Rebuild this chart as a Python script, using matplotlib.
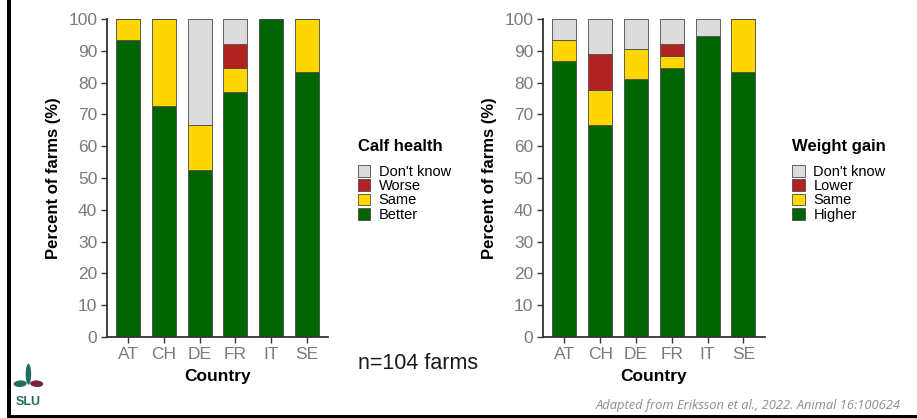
import matplotlib.pyplot as plt
from matplotlib.patches import Rectangle, Ellipse
import numpy as np

plt.rcParams['font.family'] = ['Liberation Sans', 'DejaVu Sans']

countries = ["AT", "CH", "DE", "FR", "IT", "SE"]

# calf health, % of farms per country
calf_better = [93.3, 72.7, 52.4, 76.9, 100.0, 83.3]
calf_same = [6.7, 27.3, 14.3, 7.7, 0.0, 16.7]
calf_worse = [0.0, 0.0, 0.0, 7.7, 0.0, 0.0]
calf_dk = [0.0, 0.0, 33.3, 7.7, 0.0, 0.0]

# weight gain, % of farms per country
wg_higher = [86.7, 66.7, 81.0, 84.6, 94.7, 83.3]
wg_same = [6.7, 11.1, 9.5, 3.8, 0.0, 16.7]
wg_lower = [0.0, 11.1, 0.0, 3.8, 0.0, 0.0]
wg_dk = [6.6, 11.1, 9.5, 7.7, 5.3, 0.0]

GREEN = "#006400"
YELLOW = "#FFD700"
RED = "#B22222"
GREY = "#DCDCDC"
TICK_COL = "#7a7a7a"


def stacked(ax, layers, labels, title, lx, ly):
    x = np.arange(1, len(countries) + 1)
    bottom = np.zeros(len(countries))
    handles = []
    for vals, col, lab in zip(layers, [GREEN, YELLOW, RED, GREY], labels):
        v = np.array(vals)
        b = ax.bar(x, v, width=0.67, bottom=bottom, color=col,
                   edgecolor="#4a4a4a", linewidth=0.6, label=lab, zorder=2)
        handles.append(b)
        bottom += v
    ax.set_xlim(0.4, 6.6)
    ax.set_ylim(0, 100)
    ax.set_yticks(range(0, 101, 10))
    ax.set_xticks(x)
    ax.set_xticklabels(countries)
    for s in ["top", "right"]:
        ax.spines[s].set_visible(False)
    for s in ["left", "bottom"]:
        ax.spines[s].set_color("#333333")
        ax.spines[s].set_linewidth(1.3)
    ax.tick_params(colors="#333333", labelcolor=TICK_COL, labelsize=12.5,
                   length=4, width=1.0, pad=3)
    ax.set_xlabel("Country", fontsize=12.5, fontweight="bold", labelpad=5)
    ax.set_ylabel("Percent of farms (%)", fontsize=12, fontweight="bold",
                  labelpad=5)
    leg = ax.legend(handles[::-1], labels[::-1], title=title,
                    loc="upper left", bbox_to_anchor=(lx, ly),
                    bbox_transform=ax.figure.transFigure,
                    frameon=False, fontsize=10.5, title_fontsize=12,
                    handlelength=0.85, handleheight=0.85, handletextpad=0.6,
                    labelspacing=0.02, borderaxespad=0, borderpad=0)
    leg.get_title().set_fontweight("bold")
    leg._legend_box.align = "left"
    leg._legend_box.sep = 8


fig = plt.figure(figsize=(9.17, 4.18), dpi=100)

ax1 = fig.add_axes([0.1167, 0.1938, 0.241, 0.7607])
stacked(ax1, [calf_better, calf_same, calf_worse, calf_dk],
        ["Better", "Same", "Worse", "Don't know"], "Calf health",
        0.39, 0.668)

ax2 = fig.add_axes([0.592, 0.1938, 0.242, 0.7607])
stacked(ax2, [wg_higher, wg_same, wg_lower, wg_dk],
        ["Higher", "Same", "Lower", "Don't know"], "Weight gain",
        0.864, 0.668)

fig.text(0.39, 0.13, "n=104 farms", fontsize=15.5, color="#1a1a1a",
         ha="left", va="center")
fig.text(0.982, 0.03, "Adapted from Eriksson et al., 2022. Animal 16:100624",
         fontsize=9.3, style="italic", color="#8c8c8c", ha="right",
         va="center", family=["Open Sans", "DejaVu Sans"])

# frame lines on left and bottom
fig.add_artist(Rectangle((0.0075, 0.0), 0.0045, 1.0, transform=fig.transFigure,
                         color="black", lw=0))
fig.add_artist(Rectangle((0.0075, 0.0), 0.9925, 0.006,
                         transform=fig.transFigure, color="black", lw=0))

# SLU mark
fig.text(0.031, 0.038, "SLU", fontsize=9, color="#1f6e5e", fontweight="bold",
         ha="center", va="center")
fig.add_artist(Ellipse((0.031, 0.105), 0.006, 0.05, transform=fig.transFigure,
                       color="#1f6e5e", lw=0))
fig.add_artist(Ellipse((0.022, 0.082), 0.014, 0.016, angle=-20,
                       transform=fig.transFigure, color="#1f6e5e", lw=0))
fig.add_artist(Ellipse((0.040, 0.082), 0.014, 0.016, angle=20,
                       transform=fig.transFigure, color="#7a1f3d", lw=0))

fig.savefig("out.png", dpi=100)
